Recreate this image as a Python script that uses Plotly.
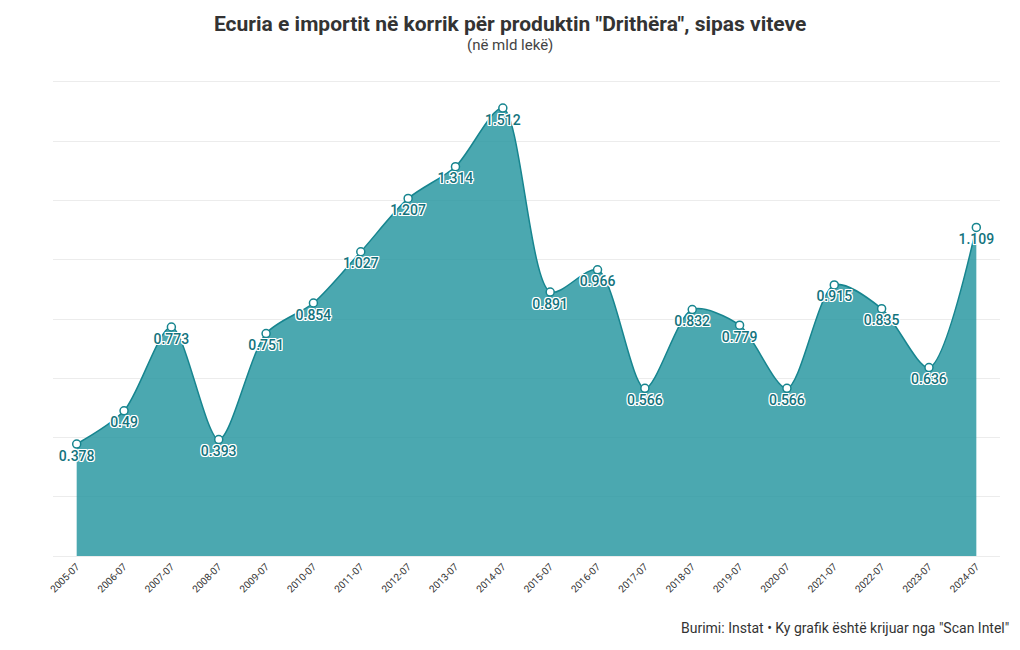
import plotly.graph_objects as go

years = ["2005-07", "2006-07", "2007-07", "2008-07", "2009-07", "2010-07", "2011-07",
         "2012-07", "2013-07", "2014-07", "2015-07", "2016-07", "2017-07", "2018-07",
         "2019-07", "2020-07", "2021-07", "2022-07", "2023-07", "2024-07"]
imports = [0.378, 0.49, 0.773, 0.393, 0.751, 0.854, 1.027, 1.207, 1.314, 1.512,
           0.891, 0.966, 0.566, 0.832, 0.779, 0.566, 0.915, 0.835, 0.636, 1.109]
labels = [str(v) for v in imports]

font_fam = 'Roboto, sans-serif'
teal_fill = 'rgba(38,150,160,0.83)'
teal_line = '#17858f'
grid_col = 'rgb(236,236,236)'
halo = ('-1px -1px 0 #fff, 1px -1px 0 #fff, -1px 1px 0 #fff, 1px 1px 0 #fff, '
        '0 -1px 0 #fff, 0 1px 0 #fff, -1px 0 0 #fff, 1px 0 0 #fff')

fig = go.Figure()
fig.add_trace(go.Scatter(
    x=years, y=imports,
    mode='lines+markers+text',
    line=dict(shape='spline', smoothing=0.8, color=teal_line, width=1.5),
    fill='tozeroy', fillcolor=teal_fill,
    marker=dict(size=8, color='white', line=dict(color=teal_line, width=1.5)),
    text=labels, textposition='bottom center',
    textfont=dict(family=font_fam, size=14, color='#13737d', weight=500, shadow=halo),
    hoverinfo='x+y',
    showlegend=False,
))

fig.update_yaxes(range=[0, 1.6], dtick=0.2, showticklabels=False, showgrid=True,
                 gridcolor=grid_col, gridwidth=1, zeroline=False, title='',
                 automargin=False)
# mirrored x line gives the top gridline; bottom one sits under the fill
fig.update_xaxes(type='category', range=[-0.5, 19.5], tickangle=-45, showgrid=False,
                 tickfont=dict(family=font_fam, size=10, color='#333'),
                 showline=True, mirror=True, linecolor=grid_col, linewidth=1,
                 layer='below traces',
                 ticks='', title='', automargin=False)

# page body has an 8px margin, so the figure is sized to fit inside it
fig.update_layout(
    width=1004, height=634,
    plot_bgcolor='white', paper_bgcolor='white',
    margin=dict(l=45, r=12, t=74, b=86),
    annotations=[
        dict(text='<b>Ecuria e importit në korrik për produktin "Drithëra", sipas viteve</b>',
             xref='paper', yref='paper', x=0.4826, y=1.122, xanchor='center', yanchor='middle',
             showarrow=False, font=dict(family=font_fam, size=21, color='#333')),
        dict(text='(në mld lekë)',
             xref='paper', yref='paper', x=0.4826, y=1.078, xanchor='center', yanchor='middle',
             showarrow=False, font=dict(family=font_fam, size=15, color='#444')),
        dict(text='Burimi: Instat • Ky grafik është krijuar nga "Scan Intel"',
             xref='paper', yref='paper', x=1.0115, y=-0.152, xanchor='right', yanchor='middle',
             showarrow=False, font=dict(family=font_fam, size=14, color='#333')),
    ],
)

fig.write_html("out.html")
